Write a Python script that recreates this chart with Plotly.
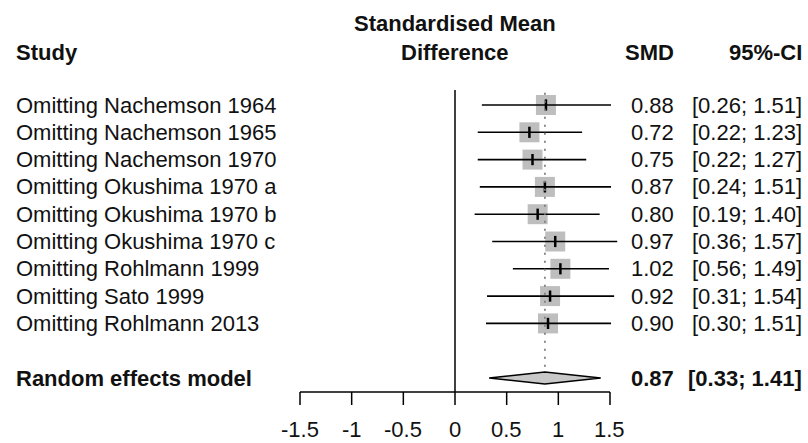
import plotly.graph_objects as go

# ---- data ----
studies = ["Omitting Nachemson 1964", "Omitting Nachemson 1965", "Omitting Nachemson 1970",
           "Omitting Okushima 1970 a", "Omitting Okushima 1970 b", "Omitting Okushima 1970 c",
           "Omitting Rohlmann 1999", "Omitting Sato 1999", "Omitting Rohlmann 2013"]
smd = [0.88, 0.72, 0.75, 0.87, 0.80, 0.97, 1.02, 0.92, 0.90]
lower = [0.26, 0.22, 0.22, 0.24, 0.19, 0.36, 0.56, 0.31, 0.30]
upper = [1.51, 1.23, 1.27, 1.51, 1.40, 1.57, 1.49, 1.54, 1.51]
re_label = "Random effects model"
re_smd = 0.87
re_lower = 0.33
re_upper = 1.41
tick_vals = [-1.5, -1, -0.5, 0, 0.5, 1, 1.5]
tick_text = ["-1.5", "-1", "-0.5", "0", "0.5", "1", "1.5"]

W, H = 808, 443
FONT = "Liberation Sans, Arial, sans-serif"
FS = 22
TXT = "#111111"

rows = list(range(len(studies)))
re_row = len(studies) + 1

# scales: x in SMD units, y in row units (reversed)
x0_px, px_per_unit = 455.0, 103.33
xr = [-x0_px / px_per_unit, (W - x0_px) / px_per_unit]
y0_px, px_per_row = 105.0, 27.3
yr = [(H - y0_px) / px_per_row, -y0_px / px_per_row]

def rows_from_px(p):
    return (p - y0_px) / px_per_row

fig = go.Figure()

# squares
fig.add_trace(go.Scatter(x=smd, y=rows, mode="markers",
                         marker=dict(symbol="square", size=20, color="#BEBEBE", line=dict(width=0)),
                         hoverinfo="skip", showlegend=False))
# CI lines
cx, cy = [], []
for r, lo, hi in zip(rows, lower, upper):
    cx += [lo, hi, None]
    cy += [r, r, None]
fig.add_trace(go.Scatter(x=cx, y=cy, mode="lines", line=dict(color="black", width=1.6),
                         hoverinfo="skip", showlegend=False))
# point estimate tick
fig.add_trace(go.Scatter(x=smd, y=rows, mode="markers",
                         marker=dict(symbol="line-ns", size=8, line=dict(color="black", width=2.5)),
                         hoverinfo="skip", showlegend=False))

# diamond
dh = 6 / px_per_row
fig.add_trace(go.Scatter(x=[re_lower, re_smd, re_upper, re_smd, re_lower],
                         y=[re_row, re_row - dh, re_row, re_row + dh, re_row],
                         mode="lines", fill="toself", fillcolor="#C8C8C8",
                         line=dict(color="black", width=1.5),
                         hoverinfo="skip", showlegend=False))

shapes = []
axis_y = rows_from_px(392)
tick_y = rows_from_px(405)
# no-effect line
shapes.append(dict(type="line", xref="x", yref="y", x0=0, x1=0,
                   y0=rows_from_px(90), y1=axis_y, line=dict(color="black", width=1.5)))
# dotted RE line
shapes.append(dict(type="line", xref="x", yref="y", x0=re_smd, x1=re_smd,
                   y0=-0.45, y1=re_row - dh, line=dict(color="#808080", width=1.8, dash="2px,6px")))
# axis line
shapes.append(dict(type="line", xref="x", yref="y", x0=tick_vals[0], x1=tick_vals[-1],
                   y0=axis_y, y1=axis_y, line=dict(color="black", width=1.5)))
for tv in tick_vals:
    shapes.append(dict(type="line", xref="x", yref="y", x0=tv, x1=tv,
                       y0=axis_y, y1=tick_y, line=dict(color="black", width=1.5)))

ann = []
def add(text, x, y, xanchor, xref="paper", bold=False, yanchor="middle"):
    ann.append(dict(text=("<b>%s</b>" % text) if bold else text, x=x, y=y, xref=xref, yref="y",
                    xanchor=xanchor, yanchor=yanchor, showarrow=False, borderpad=0,
                    font=dict(family=FONT, size=FS, color=TXT)))

lab_x = 15 / W
smd_x = 675 / W
ci_x = 803 / W
for r, s, m, lo, hi in zip(rows, studies, smd, lower, upper):
    add(s, lab_x, r, "left")
    add("%.2f" % m, smd_x, r, "right")
    add("[%.2f; %.2f]" % (lo, hi), ci_x, r, "right")
add(re_label, lab_x, re_row, "left", bold=True)
add("%.2f" % re_smd, smd_x, re_row, "right", bold=True)
add("[%.2f; %.2f]" % (re_lower, re_upper), ci_x, re_row, "right", bold=True)

# headers
hy = rows_from_px(52)
add("Study", lab_x, hy, "left", bold=True)
add("Standardised Mean", 0, rows_from_px(23), "center", xref="x", bold=True)
add("Difference", 0, hy, "center", xref="x", bold=True)
add("SMD", smd_x, hy, "right", bold=True)
add("95%-CI", ci_x, hy, "right", bold=True)

# tick labels
for tv, tt in zip(tick_vals, tick_text):
    add(tt, tv, rows_from_px(442.5), "center", xref="x", yanchor="bottom")

fig.update_layout(width=W, height=H, margin=dict(l=0, r=0, t=0, b=0),
                  paper_bgcolor="white", plot_bgcolor="white",
                  xaxis=dict(range=xr, visible=False, fixedrange=True),
                  yaxis=dict(range=yr, visible=False, fixedrange=True),
                  shapes=shapes, annotations=ann, showlegend=False)

fig.write_html("out.html", config={"displayModeBar": False},
               post_script="document.body.style.margin='0';document.body.style.overflow='hidden';")
